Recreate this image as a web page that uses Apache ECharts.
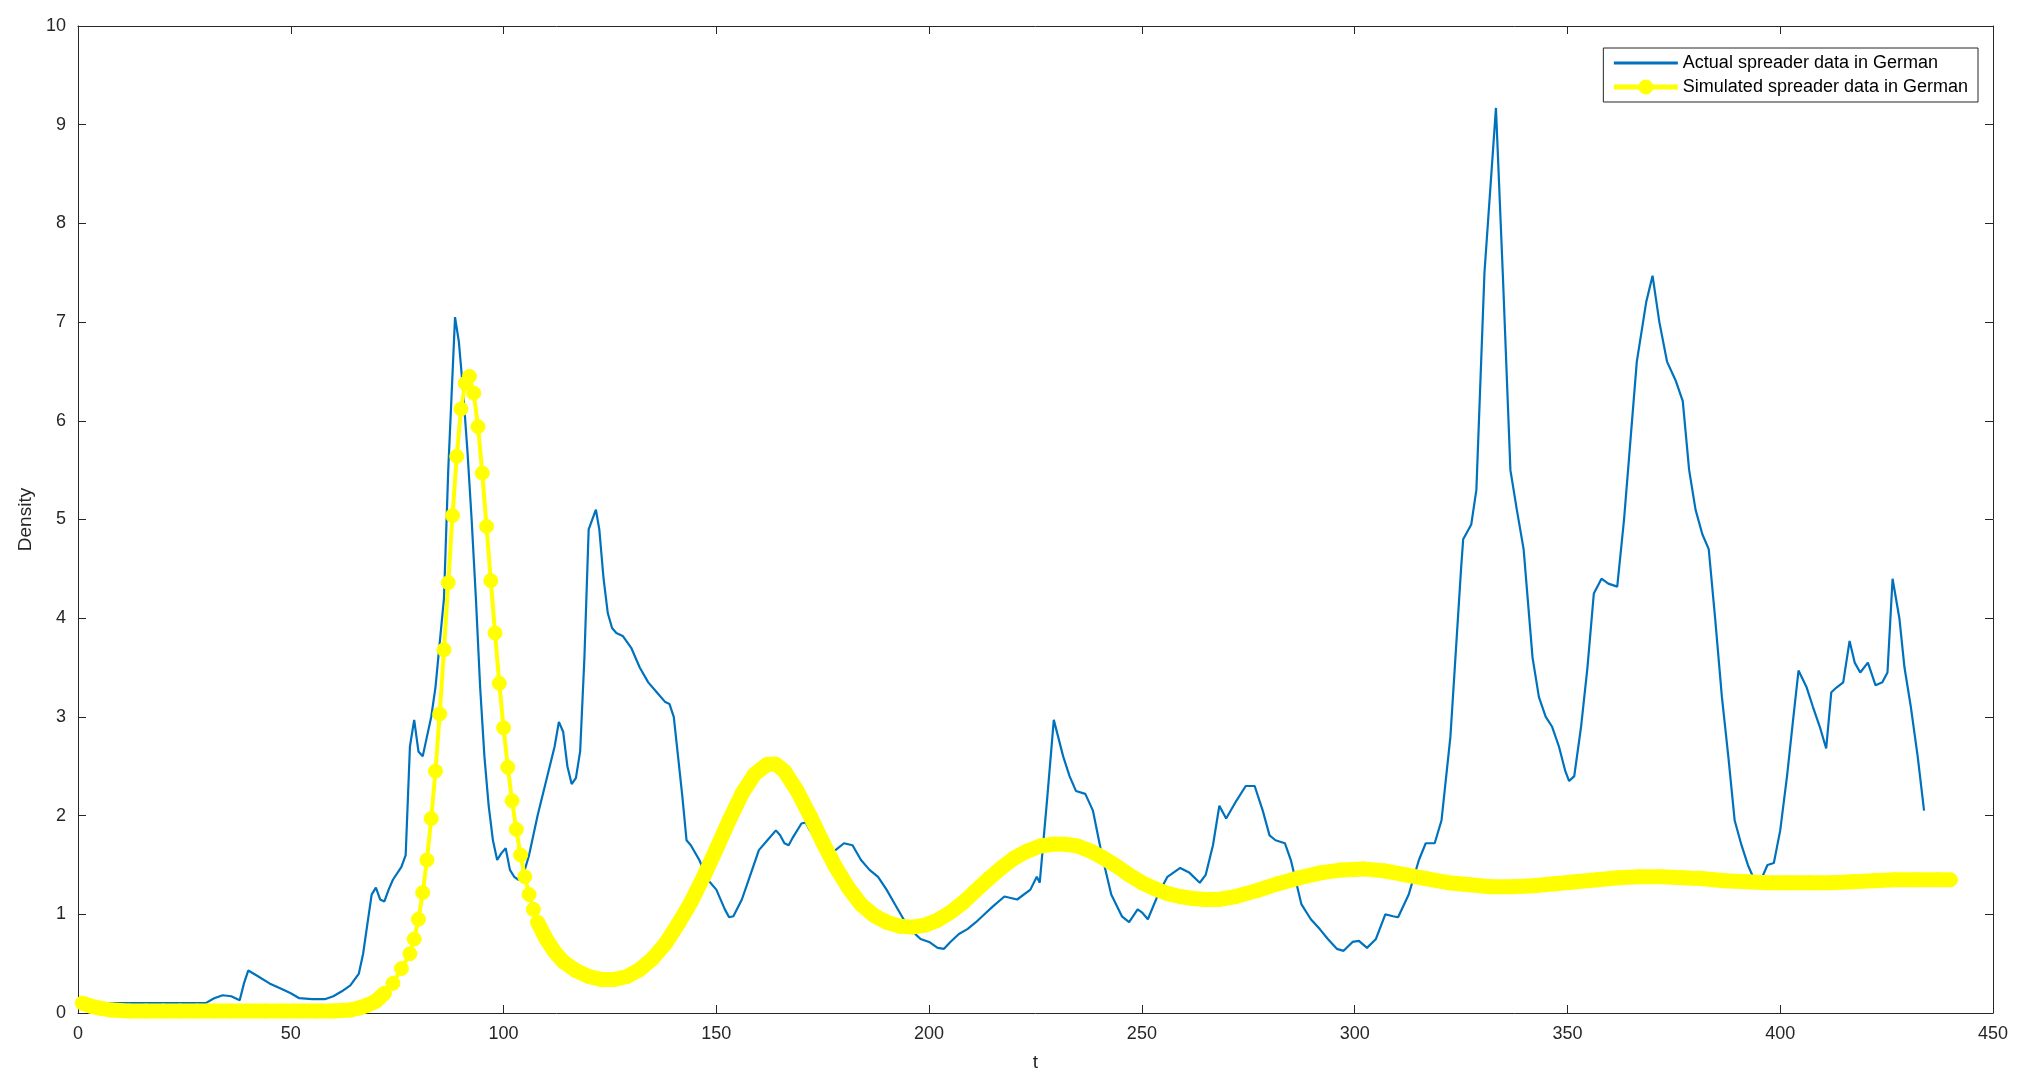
<!DOCTYPE html>
<html><head><meta charset="utf-8">
<script src="https://cdn.jsdelivr.net/npm/echarts@6/dist/echarts.min.js"></script>
<style>html,body{margin:0;padding:0;background:#fff}#c{width:2035px;height:1089px}</style>
</head><body><div id="c"></div>
<script>
const actualT = [7,10,20,30,32,34,36,38,39,40,42,45,48,50,52,55,58,60,62,64,66,67,68,69,70,71,72,73,74,76,77,78,79,80,81,82,83,84,85,86,87,88.6,89.5,90.5,91.5,92.5,93.5,94.5,95.5,96.5,97.5,98.5,99.5,100.5,101.5,102.5,103.5,104.5,106,108,110,112,113,114,115,116,117,118,119,120,121.7,122.5,123.5,124.5,125.5,126.5,128,130,132,134,136,138,139,140,141,142,143,144,146,148,150,152,153,154,156,158,160,162,164,165,166,167,168,170,171,172,174,176,178,180,182,184,186,188,190,192,194,196,198,200,202,203.5,205,207,209,211,213,215,217.7,220.7,223.8,225.3,226,227.8,229.3,231.5,233,234.5,236.7,238.5,240.6,242.8,245.3,247,249,250,251.4,253.8,256,259,261.2,263.6,265,266.7,268.2,269.8,272.2,274.4,276.5,278.4,280,281.4,283.6,285,287.5,289.7,291.8,293.7,295.8,297.4,299.5,301,302.9,305,307.2,309,310.2,312.7,315.1,316.7,318.8,320.4,322.5,325,325.5,327.4,328.6,330.5,333.2,334.8,336.6,338.1,339.7,341.8,343.3,344.9,346.4,348,349.5,350.4,351.6,353.2,354.7,356.2,358,359.6,361.7,363.3,364.8,366.3,368.5,370,371.6,373.4,375.5,377.1,378.6,380.1,381.7,383.2,384.7,386.3,387.8,389.3,390.9,392.4,393.9,395.5,397,398.5,400,401.6,403.1,404.3,406.2,407.7,409.3,410.8,412,413.3,414.8,416.3,417.5,418.8,420.6,422.4,424,425.2,426.4,428,429.2,430.7,432.3,433.8,435];
const actualV = [0.1,0.1,0.1,0.1,0.15,0.18,0.17,0.13,0.3,0.43,0.38,0.3,0.24,0.2,0.15,0.14,0.14,0.17,0.22,0.28,0.4,0.6,0.9,1.2,1.27,1.15,1.13,1.25,1.35,1.48,1.6,2.7,2.97,2.65,2.6,2.8,3.0,3.3,3.75,4.2,5.5,7.05,6.8,6.3,5.7,5.0,4.2,3.3,2.6,2.1,1.75,1.55,1.62,1.67,1.45,1.38,1.35,1.38,1.6,2.0,2.35,2.7,2.95,2.85,2.5,2.32,2.38,2.65,3.6,4.9,5.1,4.9,4.4,4.05,3.9,3.85,3.82,3.7,3.5,3.35,3.25,3.15,3.13,3.0,2.6,2.2,1.75,1.7,1.55,1.35,1.25,1.05,0.97,0.98,1.15,1.4,1.65,1.75,1.85,1.8,1.72,1.7,1.78,1.92,1.93,1.85,1.72,1.6,1.65,1.72,1.7,1.55,1.45,1.38,1.25,1.1,0.95,0.83,0.75,0.72,0.66,0.65,0.72,0.8,0.85,0.92,1.0,1.08,1.18,1.15,1.25,1.38,1.32,2.2,2.97,2.6,2.4,2.25,2.22,2.05,1.6,1.2,0.98,0.92,1.05,1.02,0.95,1.2,1.38,1.47,1.42,1.32,1.4,1.7,2.1,1.97,2.15,2.3,2.3,2.05,1.8,1.75,1.72,1.55,1.1,0.95,0.85,0.75,0.65,0.63,0.72,0.73,0.66,0.75,1.0,0.98,0.97,1.2,1.55,1.72,1.72,1.95,2.8,4.5,4.8,4.95,5.3,7.5,9.17,7.5,5.5,5.1,4.7,3.6,3.2,3.0,2.9,2.7,2.45,2.35,2.4,2.9,3.5,4.25,4.4,4.35,4.32,5.0,5.8,6.6,7.2,7.47,7.0,6.6,6.4,6.2,5.5,5.1,4.85,4.7,4.0,3.2,2.6,1.95,1.7,1.5,1.35,1.35,1.5,1.52,1.85,2.4,3.0,3.47,3.3,3.1,2.9,2.68,3.25,3.3,3.35,3.77,3.55,3.45,3.55,3.32,3.35,3.45,4.4,4.0,3.5,3.1,2.6,2.05];
const simT = [1,3,5,8,12,16,20,24,28,32,36,40,44,48,52,56,60,64,66,68,70,72,74,76,78,79,80,81,82,83,84,85,86,87,88,89,90,91,92,93,94,95,96,97,98,99,100,101,102,103,104,105,106,107,108,110,112,114,117,120,123,126,129,132,135,138,141,144,147,150,153,156,159,162,164,166,169,172,175,178,181,184,187,190,193,196,199,202,205,208,211,214,217,220,223,226,229,232,235,238,241,244,247,250,253,256,259,262,265,268,272,277,282,287,292,297,302,307,312,317,322,327,332,337,342,347,352,357,362,367,372,377,382,387,392,397,402,407,412,417,422,427,432,437,440];
const simV = [0.1,0.07,0.05,0.03,0.02,0.02,0.02,0.02,0.02,0.02,0.02,0.02,0.02,0.02,0.02,0.02,0.02,0.03,0.05,0.08,0.12,0.2,0.3,0.45,0.6,0.75,0.95,1.22,1.55,1.97,2.45,3.03,3.68,4.36,5.04,5.64,6.12,6.38,6.45,6.28,5.94,5.47,4.93,4.38,3.85,3.34,2.89,2.49,2.15,1.86,1.6,1.38,1.2,1.05,0.92,0.75,0.62,0.52,0.43,0.37,0.34,0.34,0.37,0.44,0.55,0.7,0.9,1.12,1.38,1.66,1.95,2.22,2.42,2.52,2.52,2.45,2.25,2.0,1.73,1.48,1.27,1.1,0.99,0.92,0.88,0.87,0.89,0.94,1.02,1.12,1.24,1.36,1.47,1.57,1.64,1.69,1.71,1.71,1.69,1.64,1.57,1.49,1.4,1.32,1.26,1.21,1.18,1.16,1.15,1.15,1.18,1.24,1.31,1.37,1.42,1.45,1.46,1.44,1.4,1.36,1.32,1.3,1.28,1.28,1.29,1.31,1.33,1.35,1.37,1.38,1.38,1.37,1.36,1.34,1.33,1.32,1.32,1.32,1.32,1.33,1.34,1.35,1.35,1.35,1.35];
const xTicks = [0,50,100,150,200,250,300,350,400,450];
const yTicks = [0,1,2,3,4,5,6,7,8,9,10];

const actual = actualT.map((t,i)=>[t,actualV[i]]);
const sim = simT.map((t,i)=>[t,simV[i]]);
const bandA = sim.filter(p=>p[0]<=72);
const bandB = sim.filter(p=>p[0]>=108);
const font = '"Liberation Sans", Arial, sans-serif';
const ax = (show)=>({axisLine:{show:true,onZero:false,lineStyle:{color:'#262626',width:1}},
  axisTick:{show:true,inside:true,length:8,lineStyle:{color:'#262626'}},
  splitLine:{show:false},
  axisLabel:{show:show,color:'#262626',fontFamily:font,fontSize:18,margin:12}});
const chart = echarts.init(document.getElementById('c'));
chart.setOption({
  animation:false,
  backgroundColor:'#fff',
  grid:{left:78,right:42,top:26,bottom:76},
  xAxis:[Object.assign({type:'value',min:0,max:450,interval:50,position:'bottom',
      name:'t',nameLocation:'middle',nameGap:40,nameTextStyle:{color:'#262626',fontFamily:font,fontSize:19}},ax(true)),
    Object.assign({type:'value',min:0,max:450,interval:50,position:'top'},ax(false))],
  yAxis:[Object.assign({type:'value',min:0,max:10,interval:1,position:'left',
      name:'Density',nameLocation:'middle',nameGap:42,nameTextStyle:{color:'#262626',fontFamily:font,fontSize:19}},ax(true)),
    Object.assign({type:'value',min:0,max:10,interval:1,position:'right'},ax(false))],
  legend:{right:57,top:48,orient:'vertical',backgroundColor:'#fff',borderColor:'#262626',borderWidth:1,
    padding:[6,10,6,8],itemGap:6,itemWidth:64,itemHeight:16,
    textStyle:{color:'#000',fontFamily:font,fontSize:18},
    data:[{name:'Actual spreader data in German',itemStyle:{color:'rgba(0,0,0,0)',borderColor:'rgba(0,0,0,0)',borderWidth:0},lineStyle:{color:'#0072bd',width:3}},
          {name:'Simulated spreader data in German',lineStyle:{color:'#ffff00',width:5}}]},
  series:[
    {name:'bandA',type:'line',data:bandA,showSymbol:false,lineStyle:{color:'#ffff00',width:15},z:2,silent:true},
    {name:'bandB',type:'line',data:bandB,showSymbol:false,lineStyle:{color:'#ffff00',width:15},z:2,silent:true},
    {name:'Simulated spreader data in German',type:'line',data:sim,symbol:'circle',symbolSize:14,showAllSymbol:true,
      itemStyle:{color:'#ffff00',borderColor:'#ffff00',borderWidth:1},lineStyle:{color:'#ffff00',width:4},z:3},
    {name:'Actual spreader data in German',type:'line',data:actual,symbol:'none',showSymbol:false,
      itemStyle:{color:'#0072bd'},lineStyle:{color:'#0072bd',width:2.2},z:1}
  ]
});
</script></body></html>
